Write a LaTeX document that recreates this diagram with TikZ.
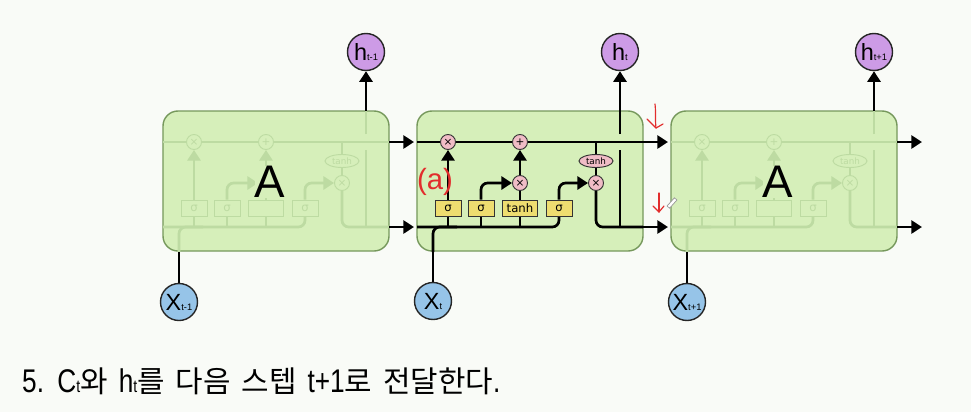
\documentclass[tikz,border=0pt]{standalone}
\usepackage{fontspec}
\setmainfont{Liberation Sans}
\newfontfamily\krfont{Noto Sans CJK KR}
\newfontfamily\latn[FakeStretch=0.8,WordSpace=1.5]{Liberation Sans}
\newfontfamily\dvs{DejaVu Sans}
\usetikzlibrary{arrows.meta,shapes.geometric}
\pgfdeclarelayer{boxes}
\pgfdeclarelayer{lines}
\pgfsetlayers{boxes,lines,main}
\definecolor{bgc}{RGB}{249,251,247}
\definecolor{cellfill}{RGB}{214,239,186}
\definecolor{celldraw}{RGB}{118,152,92}
\definecolor{ghost}{RGB}{189,219,162}
\definecolor{pinkc}{RGB}{240,188,198}
\definecolor{yell}{RGB}{238,221,112}
\definecolor{purp}{RGB}{205,155,230}
\definecolor{bluec}{RGB}{150,196,232}
\definecolor{redm}{RGB}{226,45,45}
\newcommand\subtxt[1]{{\fontsize{8}{8}\selectfont #1}}
\newcommand\krtext[1]{{\krfont\fontsize{25.5}{25.5}\selectfont #1}}
\newcommand\capsub[1]{{\fontsize{15}{15}\selectfont #1}}
\tikzset{
  lns/.style={line width=2.3pt,draw=black},
  lng/.style={line width=2.3pt,draw=ghost},
  tip/.style={-{Triangle[length=9pt,width=11pt]}},
  cellbox/.style={rectangle,rounded corners=0.45cm,draw=celldraw,fill=cellfill,line width=1.2pt,minimum width=6.78cm,minimum height=4.2cm,inner sep=0pt},
  pwbase/.style={circle,line width=0.8pt,minimum size=0.45cm,inner sep=0pt,font=\dvs\fontsize{9}{9}\selectfont},
  pws/.style={pwbase,draw=black!80,fill=pinkc},
  pwg/.style={pwbase,draw=ghost,fill=cellfill,text=ghost},
  gatebase/.style={rectangle,line width=0.8pt,minimum width=0.78cm,minimum height=0.48cm,inner sep=0pt,font=\dvs\fontsize{10}{10}\selectfont},
  gates/.style={gatebase,draw=black!80,fill=yell},
  gateg/.style={gatebase,draw=ghost,fill=cellfill,text=ghost},
  thbase/.style={ellipse,line width=0.8pt,minimum width=1.02cm,minimum height=0.39cm,inner sep=0pt,font=\dvs\fontsize{7.5}{7.5}\selectfont},
  ths/.style={thbase,draw=black!80,fill=pinkc},
  thg/.style={thbase,draw=ghost,fill=cellfill,text=ghost},
  iocirc/.style={circle,draw=black!85,line width=1.2pt,minimum size=1.11cm,inner sep=0pt,font=\fontsize{20}{20}\selectfont},
  hcirc/.style={iocirc,fill=purp},
  xcirc/.style={iocirc,fill=bluec},
  bigA/.style={font=\fontsize{39}{39}\selectfont,fill=cellfill,inner sep=0pt},
  redhand/.style={draw=redm,line width=1pt,line cap=round,line join=round}
}
% #1 prefix, #2 left x, #3 s (solid) or g (ghost), #4 label of the input-gate product, #5 label of the tanh gate
\newcommand\lstmcell[5]{%
 \begin{scope}[shift={(#2,0)}]
  \node[pw#3] (#1f) at (31,142) {×};
  \node[pw#3] (#1p) at (103,142) {+};
  \node[pw#3] (#1i) at (103,183) {#4};
  \node[pw#3] (#1o) at (179,183) {×};
  \node[th#3] (#1th) at (179,161) {tanh};
  \node[gate#3] (#1ga) at (31,208) {σ};
  \node[gate#3] (#1gb) at (64,208) {σ};
  \node[gate#3,minimum width=1.05cm] (#1gc) at (103,208) {#5};
  \node[gate#3] (#1gd) at (142,208) {σ};
  \coordinate (#1ul) at (0,142);
  \coordinate (#1ur) at (226,142);
  \coordinate (#1ll) at (0,227);
  \coordinate (#1lr) at (226,227);
  \coordinate (#1xb) at (16,252);
  \coordinate (#1xm) at (40,227);
  \coordinate (#1hb) at (203,227);
  \coordinate (#1hx) at (203,150);
  \coordinate (#1hy) at (203,134);
  \coordinate (#1ht) at (203,111);
  \coordinate (#1tb) at (179,142);
  \coordinate (#1ain) at (251,142);
  \coordinate (#1bin) at (251,227);
  \begin{pgfonlayer}{lines}
   \draw[ln#3] (#1ul) -- (#1ur);
   \draw[ln#3,rounded corners=0.2cm] (#1ll) -| (#1gd.south);
   \draw[ln#3,rounded corners=0.2cm] (#1xb) |- (#1xm);
   \draw[ln#3] (#1ga.south) -- (#1ga.south |- #1ll);
   \draw[ln#3] (#1gb.south) -- (#1gb.south |- #1ll);
   \draw[ln#3] (#1gc.south) -- (#1gc.south |- #1ll);
   \draw[ln#3,tip] (#1ga.north) -- (#1f.south);
   \draw[ln#3,tip,rounded corners=0.2cm] (#1gb.north) |- (#1i.west);
   \draw[ln#3] (#1gc.north) -- (#1i.south);
   \draw[ln#3,tip] (#1i.north) -- (#1p.south);
   \draw[ln#3,tip,rounded corners=0.2cm] (#1gd.north) |- (#1o.west);
   \draw[ln#3] (#1tb) -- (#1th.north);
   \draw[ln#3] (#1th.south) -- (#1o.north);
   \draw[ln#3,rounded corners=0.2cm] (#1o.south) |- (#1lr);
   \draw[ln#3] (#1hb) -- (#1hx);
   \draw[ln#3] (#1hy) -- (#1ht);
  \end{pgfonlayer}
 \end{scope}}
\begin{document}
\begin{tikzpicture}[x=0.03cm,y=-0.03cm]
\begin{pgfonlayer}{boxes}
 \fill[bgc] (0,0) rectangle (971,412);
 \node[cellbox] (cellL) at (276,181) {};
 \node[cellbox] (cellM) at (530,181) {};
 \node[cellbox] (cellR) at (784,181) {};
\end{pgfonlayer}
\useasboundingbox (0,0) rectangle (971,412);

\lstmcell{L}{163}{g}{}{}
\lstmcell{M}{417}{s}{×}{tanh}
\lstmcell{R}{671}{g}{}{}

\node[bigA] (AL) at (270,182) {A};
\node[bigA] (AR) at (778,182) {A};

% inputs and outputs
\node[hcirc] (hL) at (366,52) {h\subtxt{t-1}};
\node[hcirc] (hM) at (620,52) {h\subtxt{t}};
\node[hcirc] (hR) at (874,52) {h\subtxt{t+1}};
\node[xcirc] (xL) at (179,302) {X\subtxt{t-1}};
\node[xcirc] (xM) at (433,301) {X\subtxt{t}};
\node[xcirc] (xR) at (687,302) {X\subtxt{t+1}};
\coordinate (outA) at (922,142);
\coordinate (outB) at (922,227);

\begin{pgfonlayer}{lines}
 \draw[lns,tip] (Lur) -- (Lain);
 \draw[lns,tip] (Llr) -- (Lbin);
 \draw[lns,tip] (Mur) -- (Main);
 \draw[lns,tip] (Mlr) -- (Mbin);
 \draw[lns,tip] (Rur) -- (outA);
 \draw[lns,tip] (Rlr) -- (outB);
 \draw[lns,tip] (Lht) -- (hL.south);
 \draw[lns,tip] (Mht) -- (hM.south);
 \draw[lns,tip] (Rht) -- (hR.south);
 \draw[lns] (xL.north) -- (Lxb);
 \draw[lns] (xM.north) -- (Mxb);
 \draw[lns] (xR.north) -- (Rxb);
\end{pgfonlayer}

% red annotations
\node[text=redm,font=\fontsize{25}{25}\selectfont,inner sep=0pt] (anno) at (435,182) {(a)};
\draw[redhand] (655,104) .. controls (656,112) and (655,120) .. (656,128);
\draw[redhand] (647,119) -- (656,128) -- (663,124);
\draw[redhand] (659,193) -- (659,212);
\draw[redhand] (653,206) -- (659,212) -- (664,206);
\node[draw=gray!80,fill=white,line width=0.6pt,minimum width=0.33cm,minimum height=0.1cm,inner sep=0pt,rotate=48] (pencil) at (672,203) {};

% caption
\node[anchor=base west,inner sep=0pt,font=\latn\fontsize{28}{28}\selectfont] (caption) at (22,392)
 {5. C\capsub{t}\krtext{와} h\capsub{t}\krtext{를} \krtext{다음} \krtext{스텝} t+1\krtext{로} \krtext{전달한다}.};
\end{tikzpicture}
\end{document}
